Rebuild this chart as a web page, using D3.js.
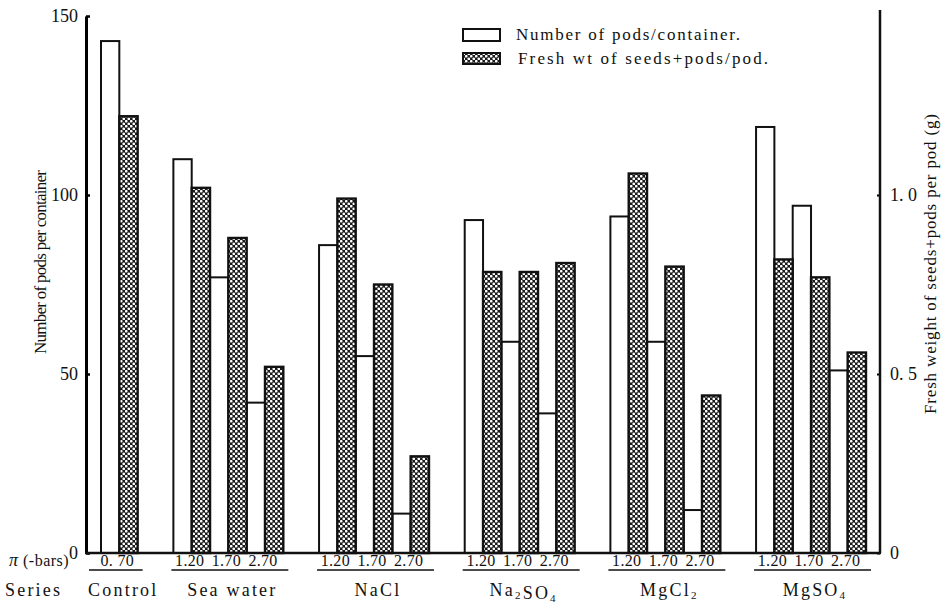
<!DOCTYPE html>
<html>
<head>
<meta charset="utf-8">
<script src="https://cdn.jsdelivr.net/npm/d3@7"></script>
<style>
  body { margin: 0; background: #fff; }
  svg text { font-family: "Liberation Serif", "DejaVu Serif", serif; fill: #111; }
</style>
</head>
<body>
<div id="chart"></div>
<script>
// Data
const groups = ["Control", "Sea water", "NaCl", "Na2SO4", "MgCl2", "MgSO4"];
const piValues = [["0. 70"], ["1.20", "1.70", "2.70"], ["1.20", "1.70", "2.70"],
                  ["1.20", "1.70", "2.70"], ["1.20", "1.70", "2.70"], ["1.20", "1.70", "2.70"]];
// number of pods per container (left axis)
const podsPerContainer = [[143], [110, 77, 42], [86, 55, 11], [93, 59, 39], [94, 59, 12], [119, 97, 51]];
// fresh weight of seeds+pods per pod, g (right axis)
const freshWeight = [[1.22], [1.02, 0.88, 0.52], [0.99, 0.75, 0.27], [0.785, 0.785, 0.81], [1.06, 0.80, 0.44], [0.82, 0.77, 0.56]];
const leftTicks = [0, 50, 100, 150];
const rightTicks = [0, 0.5, 1.0];
const rightTickLabels = ["0", "0. 5", "1. 0"];

const width = 946, height = 604;
const gap = 1.95; // gap between groups, in bar widths
const serif = "Liberation Serif, DejaVu Serif, serif";

const svg = d3.select("#chart").append("svg")
    .attr("width", width)
    .attr("height", height)
    .attr("font-family", serif);

// dotted hatch pattern for the weight bars
const pat = svg.append("defs").append("pattern")
    .attr("id", "dots")
    .attr("width", 5).attr("height", 5)
    .attr("patternUnits", "userSpaceOnUse");
pat.append("rect").attr("width", 5).attr("height", 5).attr("fill", "#1a1a1a");
pat.append("circle").attr("cx", 1.25).attr("cy", 1.25).attr("r", 1.35).attr("fill", "#fff");
pat.append("circle").attr("cx", 3.75).attr("cy", 3.75).attr("r", 1.35).attr("fill", "#fff");

// flatten bars: white (pods) then hatched (weight), side by side
const bars = [], spans = [];
let u = 0;
groups.forEach((g, gi) => {
    const start = u;
    podsPerContainer[gi].forEach((v, j) => {
        bars.push({kind: "pods", unit: u, value: v, pi: piValues[gi][j]});
        u++;
        bars.push({kind: "weight", unit: u, value: freshWeight[gi][j]});
        u++;
    });
    spans.push({name: g, start: start, end: u});
    u += gap;
});
const totalUnits = u - gap;

const x = d3.scaleLinear().domain([0, totalUnits]).range([101, 866]);
const bw = x(1) - x(0);
const yLeft = d3.scaleLinear().domain([0, 150]).range([553, 16]);
const yRight = d3.scaleLinear().domain([0, 1.5]).range([553, 16]);

// white bars
svg.selectAll(".pods")
    .data(bars.filter(d => d.kind === "pods"))
    .enter().append("rect")
    .attr("class", "pods")
    .attr("x", d => x(d.unit))
    .attr("y", d => yLeft(d.value))
    .attr("width", bw)
    .attr("height", d => yLeft(0) - yLeft(d.value))
    .attr("fill", "#fff")
    .attr("stroke", "#111")
    .attr("stroke-width", 2);

// hatched bars
svg.selectAll(".weight")
    .data(bars.filter(d => d.kind === "weight"))
    .enter().append("rect")
    .attr("class", "weight")
    .attr("x", d => x(d.unit))
    .attr("y", d => yRight(d.value))
    .attr("width", bw)
    .attr("height", d => yRight(0) - yRight(d.value))
    .attr("fill", "url(#dots)")
    .attr("stroke", "#111")
    .attr("stroke-width", 2.4);

// axes
const axisL = svg.append("g")
    .attr("transform", "translate(86,0)")
    .call(d3.axisLeft(yLeft).tickValues(leftTicks).tickSize(-4).tickSizeOuter(0).tickPadding(8));
axisL.select(".domain").attr("stroke-width", 3);
axisL.selectAll(".tick line").attr("stroke-width", 2.5);
axisL.selectAll("text").attr("font-family", serif).style("font-size", "18px");

const axisR = svg.append("g")
    .attr("transform", "translate(880,0)")
    .call(d3.axisRight(yRight).tickValues(rightTicks).tickFormat((d, i) => rightTickLabels[i])
        .tickSize(-3).tickSizeOuter(0).tickPadding(10));
axisR.select(".domain").remove();
axisR.selectAll(".tick line").attr("stroke-width", 2);
axisR.selectAll("text").attr("font-family", serif).style("font-size", "18px");
svg.append("line")
    .attr("x1", 880).attr("x2", 880)
    .attr("y1", yRight(0)).attr("y2", 10)
    .attr("stroke", "#111").attr("stroke-width", 2.5);

// baseline
svg.append("line")
    .attr("x1", 85).attr("x2", 881)
    .attr("y1", yLeft(0)).attr("y2", yLeft(0))
    .attr("stroke", "#111").attr("stroke-width", 2.5);

// axis titles
svg.append("text")
    .attr("transform", "translate(46,262) rotate(-90)")
    .attr("text-anchor", "middle")
    .attr("textLength", 184)
    .style("font-size", "17px")
    .text("Number of pods per container");

svg.append("text")
    .attr("transform", "translate(936,264) rotate(-90)")
    .attr("text-anchor", "middle")
    .attr("textLength", 300)
    .style("font-size", "17px")
    .text("Fresh weight of seeds+pods per pod (g)");

// pi labels under each pair of bars
svg.selectAll(".pi")
    .data(bars.filter(d => d.kind === "pods"))
    .enter().append("text")
    .attr("class", "pi")
    .attr("x", d => x(d.unit + 1) - 2)
    .attr("y", 566)
    .attr("text-anchor", "middle")
    .style("font-size", "16px")
    .style("letter-spacing", "0.3px")
    .text(d => d.pi);

// underlines for each group
svg.selectAll(".uline")
    .data(spans)
    .enter().append("line")
    .attr("x1", (d, i) => x(d.start) - (i === 0 ? 12 : 2))
    .attr("x2", d => x(d.end) + 5)
    .attr("y1", 570).attr("y2", 570)
    .attr("stroke", "#111").attr("stroke-width", 1.3);

// group names, digits as subscripts
const names = svg.selectAll(".gname")
    .data(spans)
    .enter().append("text")
    .attr("class", "gname")
    .attr("x", d => (x(d.start) + x(d.end)) / 2 + 4)
    .attr("y", 596)
    .attr("text-anchor", "middle")
    .style("font-size", "18px")
    .style("letter-spacing", "2.2px");
names.each(function(d) {
    const t = d3.select(this);
    d.name.match(/\d+|\D+/g).forEach(part => {
        if (/\d/.test(part)) {
            t.append("tspan").attr("dy", 3).style("font-size", "11px").text(part);
            t.append("tspan").attr("dy", -3).text("");
        } else {
            t.append("tspan").text(part);
        }
    });
});

// row headings
const piHead = svg.append("text")
    .attr("x", 9).attr("y", 566)
    .style("font-size", "16px")
    .style("letter-spacing", "0.5px");
piHead.append("tspan").style("font-style", "italic").style("font-size", "18px").text("π");
piHead.append("tspan").text(" (-bars)");

svg.append("text")
    .attr("x", 5).attr("y", 596)
    .style("font-size", "18px")
    .style("letter-spacing", "2.2px")
    .text("Series");

// legend
svg.append("rect")
    .attr("x", 463).attr("y", 29).attr("width", 37).attr("height", 12)
    .attr("fill", "#fff").attr("stroke", "#111").attr("stroke-width", 2);
svg.append("text")
    .attr("x", 516).attr("y", 40)
    .attr("textLength", 224)
    .style("font-size", "17px")
    .text("Number of pods/container.");

svg.append("rect")
    .attr("x", 463).attr("y", 53).attr("width", 37).attr("height", 11)
    .attr("fill", "url(#dots)").attr("stroke", "#111").attr("stroke-width", 2);
svg.append("text")
    .attr("x", 518).attr("y", 64)
    .attr("textLength", 250)
    .style("font-size", "17px")
    .text("Fresh wt of seeds+pods/pod.");
</script>
</body>
</html>
